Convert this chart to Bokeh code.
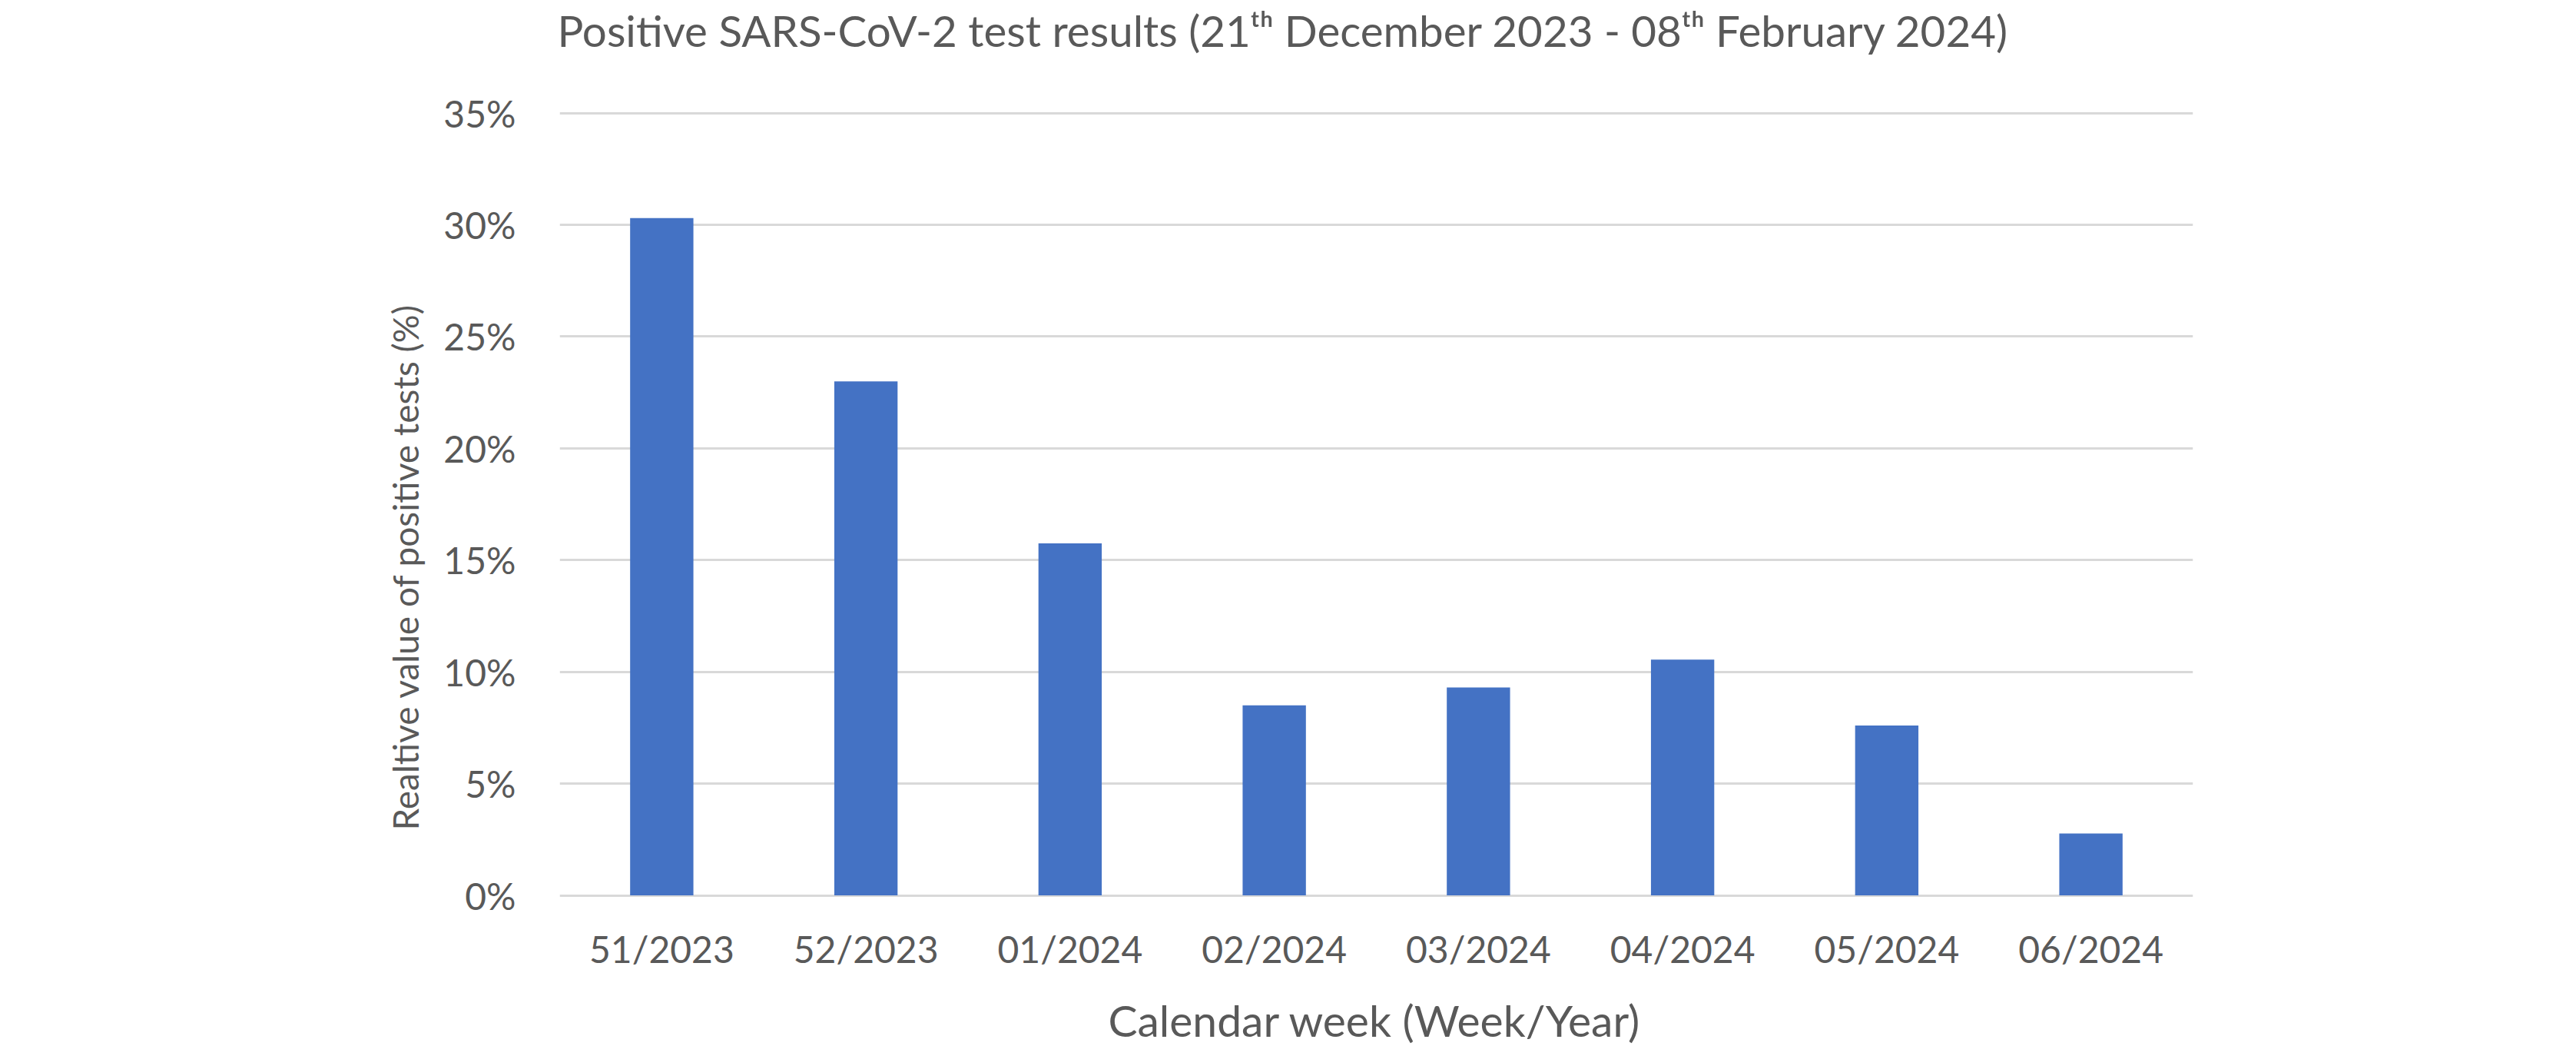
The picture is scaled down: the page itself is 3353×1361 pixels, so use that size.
from bokeh.plotting import figure
from bokeh.models import FixedTicker, PrintfTickFormatter, Range1d, Label, Title, ColumnDataSource
from bokeh.embed import file_html
from bokeh.resources import INLINE

weeks = ["51/2023", "52/2023", "01/2024", "02/2024", "03/2024", "04/2024", "05/2024", "06/2024"]
positive_pct = [30.3, 23.0, 15.75, 8.5, 9.3, 10.55, 7.6, 2.77]
y_ticks = [0, 5, 10, 15, 20, 25, 30, 35]

title_text = "Positive SARS-CoV-2 test results (21\u1d57\u02b0 December 2023 - 08\u1d57\u02b0 February 2024)"
x_title = "Calendar week (Week/Year)"
y_title = "Realtive value of positive tests (%)"

FONT = "Lato"
TXT = "#595959"
GRID = "#D9D9D9"
BAR = "#4472C4"

# layout geometry (pixels)
FIG_W, FIG_H = 3353, 1361
PX_PER_PCT = 29.086         # vertical pixels per percentage point
TOP_PAD_PX = 146.6          # space above the 35 % gridline
BOTTOM_PAD_PX = 196.4       # space below the 0 % baseline
y_start = -BOTTOM_PAD_PX / PX_PER_PCT
y_end = 35 + TOP_PAD_PX / PX_PER_PCT

src = ColumnDataSource(dict(week=weeks, val=positive_pct))

p = figure(x_range=weeks, y_range=Range1d(y_start, y_end), width=FIG_W, height=FIG_H,
           output_backend="svg", toolbar_location=None, min_border=0,
           min_border_left=728, min_border_right=499,
           min_border_top=0, min_border_bottom=0)

p.vbar(x="week", top="val", bottom=0, width=0.31, source=src, fill_color=BAR, line_color=None)

p.outline_line_color = None
p.background_fill_color = "white"
p.border_fill_color = "white"

# grid
p.xgrid.grid_line_color = None
p.ygrid.ticker = FixedTicker(ticks=y_ticks)
p.ygrid.grid_line_color = GRID
p.ygrid.grid_line_width = 3

# y axis
p.yaxis.ticker = FixedTicker(ticks=y_ticks)
p.yaxis.formatter = PrintfTickFormatter(format="%d%%")
p.yaxis.axis_line_color = None
p.yaxis.major_tick_line_color = None
p.yaxis.minor_tick_line_color = None
p.yaxis.major_tick_out = 0
p.yaxis.major_tick_in = 0
p.yaxis.major_label_standoff = 57
p.yaxis.major_label_text_font = FONT
p.yaxis.major_label_text_font_size = "48px"
p.yaxis.major_label_text_color = TXT

# x axis, drawn along the 0 % baseline
p.xaxis.fixed_location = 0
p.xaxis.axis_line_color = None
p.xaxis.major_tick_line_color = None
p.xaxis.major_tick_out = 0
p.xaxis.major_tick_in = 0
p.xaxis.major_label_standoff = 41
p.xaxis.major_label_text_font = FONT
p.xaxis.major_label_text_font_size = "48px"
p.xaxis.major_label_text_color = TXT

# chart title and x-axis title (screen offsets from the frame's bottom-left)
p.add_layout(Label(x=942, y=1323, x_units="screen", y_units="screen", text=title_text,
                   text_align="center", text_baseline="alphabetic",
                   text_font=FONT, text_font_size="56.5px", text_color=TXT))
p.add_layout(Label(x=1061, y=35, x_units="screen", y_units="screen", text=x_title,
                   text_align="center", text_baseline="alphabetic",
                   text_font=FONT, text_font_size="57px", text_color=TXT))

# y-axis title
p.add_layout(Title(text=y_title, align="left", offset=281, vertical_align="bottom",
                   standoff=40, text_font=FONT, text_font_size="46px",
                   text_font_style="normal", text_color=TXT), "left")

open("out.html", "w").write(file_html(p, INLINE))
